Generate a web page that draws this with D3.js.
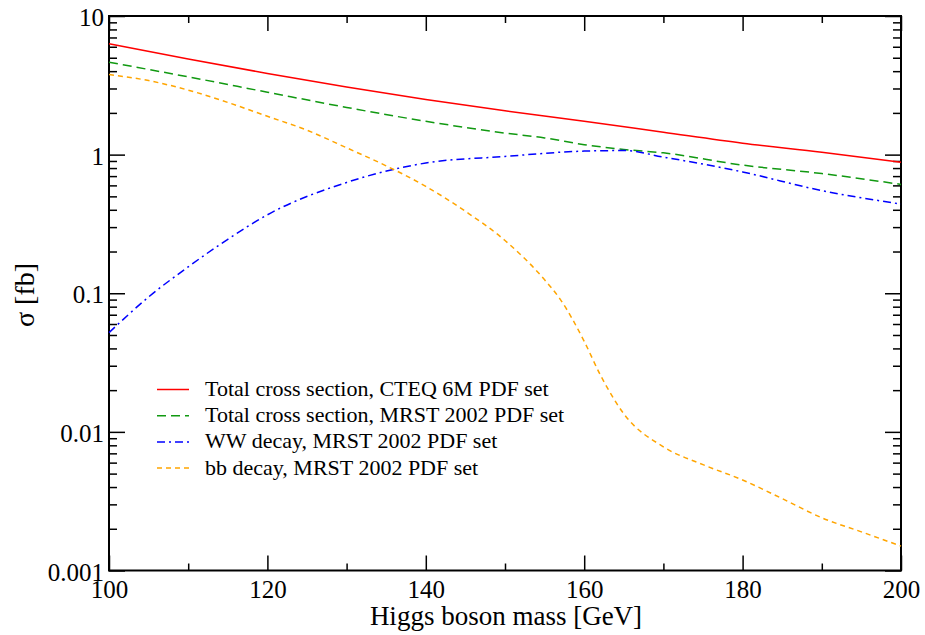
<!DOCTYPE html>
<html>
<head>
<meta charset="utf-8">
<script src="https://cdn.jsdelivr.net/npm/d3@7"></script>
<style>
  body { margin: 0; background: #fff; }
  svg { display: block; }
</style>
</head>
<body>
<svg id="svg" width="925" height="635"></svg>
<script>
// Higgs cross sections vs mass
const redMass = [100, 110, 120, 130, 140, 150, 160, 170, 180, 190, 200];
const redSigma = [6.3, 4.9, 3.85, 3.08, 2.5, 2.07, 1.74, 1.45, 1.21, 1.04, 0.88];

const greenMass = [100, 110, 120, 130, 140, 150, 155, 160, 165, 170, 180, 190, 200];
const greenSigma = [4.64, 3.64, 2.82, 2.19, 1.74, 1.43, 1.32, 1.18, 1.09, 1.03, 0.84, 0.73, 0.61];

const blueMass = [100, 105, 110, 115, 120, 130, 140, 150, 160, 165, 170, 180, 190, 200];
const blueSigma = [0.052, 0.094, 0.155, 0.245, 0.368, 0.63, 0.87, 0.97, 1.06, 1.07, 0.96, 0.75, 0.55, 0.44];

const orangeMass = [100, 105, 110, 115, 120, 125, 130, 135, 140, 145, 150, 155, 157, 160, 162, 165, 170, 175, 180, 185, 190, 195, 200];
const orangeSigma = [3.78, 3.42, 2.92, 2.38, 1.89, 1.5, 1.12, 0.83, 0.59, 0.39, 0.24, 0.125, 0.09, 0.045, 0.026, 0.0135, 0.0078, 0.0058, 0.0045, 0.0033, 0.0024, 0.0019, 0.0015];

const legendLabels = [
    "Total cross section, CTEQ 6M PDF set",
    "Total cross section, MRST 2002 PDF set",
    "WW decay, MRST 2002 PDF set",
    "bb decay, MRST 2002 PDF set"
];

const xMajor = [100, 120, 140, 160, 180, 200];
const xMinor = [110, 130, 150, 170, 190];
const yMajor = [0.001, 0.01, 0.1, 1, 10];
const yMajorLabels = ["0.001", "0.01", "0.1", "1", "10"];

const margin = {top: 16, left: 109, bottom: 64.5, right: 24};
const width = 925, height = 635;
const serif = "'Liberation Serif', 'Times New Roman', serif";

const svg = d3.select("#svg");

const xScale = d3.scaleLinear().domain([100, 200]).range([margin.left, width - margin.right]);
const yScale = d3.scaleLog().domain([0.001, 10]).range([height - margin.bottom, margin.top]);

// minor ticks for log axis
let yMinor = [];
yMajor.slice(0, -1).forEach(d => {
    for (let k = 2; k <= 9; k++) yMinor.push(d * k);
});

function drawAxes() {
    const x0 = xScale.range()[0], x1 = xScale.range()[1];
    const y0 = yScale.range()[0], y1 = yScale.range()[1];

    // bottom
    svg.append("g").attr("transform", "translate(0," + y0 + ")")
        .call(d3.axisBottom(xScale).tickValues(xMajor).tickSize(-15).tickPadding(10).tickFormat(d3.format("d")))
        .call(g => g.select(".domain").remove());
    svg.append("g").attr("transform", "translate(0," + y0 + ")")
        .call(d3.axisBottom(xScale).tickValues(xMinor).tickSize(-7).tickFormat(""))
        .call(g => g.select(".domain").remove());
    // top
    svg.append("g").attr("transform", "translate(0," + y1 + ")")
        .call(d3.axisTop(xScale).tickValues(xMajor).tickSize(-15).tickFormat(""))
        .call(g => g.select(".domain").remove());
    svg.append("g").attr("transform", "translate(0," + y1 + ")")
        .call(d3.axisTop(xScale).tickValues(xMinor).tickSize(-7).tickFormat(""))
        .call(g => g.select(".domain").remove());
    // left
    svg.append("g").attr("transform", "translate(" + x0 + ",0)")
        .call(d3.axisLeft(yScale).tickValues(yMajor).tickSize(-16).tickPadding(5)
            .tickFormat((d, i) => yMajorLabels[i]))
        .call(g => g.select(".domain").remove())
        .call(g => g.selectAll("text").attr("dy", "0.38em"));
    svg.append("g").attr("transform", "translate(" + x0 + ",0)")
        .call(d3.axisLeft(yScale).tickValues(yMinor).tickSize(-8).tickFormat(""))
        .call(g => g.select(".domain").remove());
    // right
    svg.append("g").attr("transform", "translate(" + x1 + ",0)")
        .call(d3.axisRight(yScale).tickValues(yMajor).tickSize(-16).tickFormat(""))
        .call(g => g.select(".domain").remove());
    svg.append("g").attr("transform", "translate(" + x1 + ",0)")
        .call(d3.axisRight(yScale).tickValues(yMinor).tickSize(-8).tickFormat(""))
        .call(g => g.select(".domain").remove());

    svg.selectAll(".tick line").attr("stroke", "#000").attr("stroke-width", 1.5);
    svg.selectAll(".tick text")
        .attr("font-family", serif)
        .attr("font-size", 25)
        .attr("fill", "#000");

    svg.append("rect")
        .attr("x", x0).attr("y", y1)
        .attr("width", x1 - x0).attr("height", y0 - y1)
        .attr("fill", "none").attr("stroke", "#000").attr("stroke-width", 2);
}

const series = [
    {mass: redMass, sigma: redSigma, color: "#ff0000", dash: null},
    {mass: greenMass, sigma: greenSigma, color: "#119911", dash: "9,5"},
    {mass: blueMass, sigma: blueSigma, color: "#0000ff", dash: "8,4,2,4"},
    {mass: orangeMass, sigma: orangeSigma, color: "#ffa500", dash: "5,4"}
];

const line = d3.line()
    .x(d => xScale(d[0]))
    .y(d => yScale(d[1]))
    .curve(d3.curveMonotoneX);

drawAxes();

const plot = svg.append("g");
series.forEach(s => {
    plot.append("path")
        .datum(s.mass.map((m, i) => [m, s.sigma[i]]))
        .attr("d", line)
        .attr("fill", "none")
        .attr("stroke", s.color)
        .attr("stroke-width", 1.5)
        .attr("stroke-dasharray", s.dash);
});

// legend
const legend = svg.append("g");
legendLabels.forEach((label, i) => {
    const y = 389.5 + i * 26.2;
    legend.append("line")
        .attr("x1", 157).attr("x2", 189)
        .attr("y1", y).attr("y2", y)
        .attr("stroke", series[i].color)
        .attr("stroke-width", 1.5)
        .attr("stroke-dasharray", series[i].dash);
    legend.append("text")
        .attr("x", 205).attr("y", y + 6.5)
        .attr("font-family", serif)
        .attr("font-size", 22)
        .text(label);
});

// axis titles
svg.append("text")
    .attr("x", 506).attr("y", 625)
    .attr("text-anchor", "middle")
    .attr("font-family", serif)
    .attr("font-size", 27)
    .text("Higgs boson mass [GeV]");

svg.append("text")
    .attr("transform", "translate(34,295) rotate(-90)")
    .attr("text-anchor", "middle")
    .attr("font-family", serif)
    .attr("font-size", 28)
    .text("σ [fb]");
</script>
</body>
</html>
